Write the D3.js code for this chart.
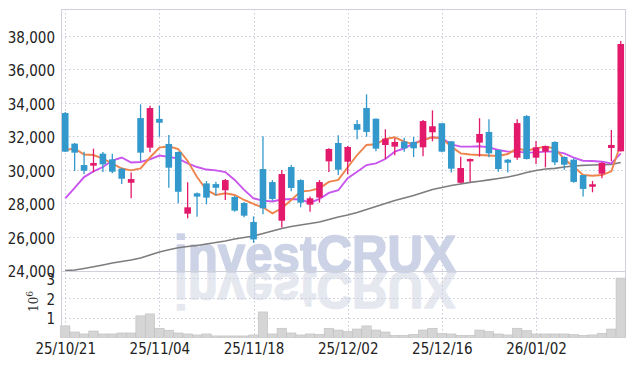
<!DOCTYPE html>
<html><head><meta charset="utf-8">
<script src="https://cdn.jsdelivr.net/npm/d3@7"></script>
<style>body{margin:0;background:#fff}svg{display:block}</style>
</head><body><svg id="c" width="634" height="366"></svg>
<script>
// ---- data ----
const dates = [
"25/10/21","25/10/22","25/10/23","25/10/24","25/10/27","25/10/28","25/10/29","25/10/30","25/10/31","25/11/03",
"25/11/04","25/11/05","25/11/06","25/11/07","25/11/10","25/11/11","25/11/12","25/11/13","25/11/14","25/11/17",
"25/11/18","25/11/19","25/11/20","25/11/21","25/11/24","25/11/25","25/11/26","25/11/27","25/11/28","25/12/01",
"25/12/02","25/12/03","25/12/04","25/12/05","25/12/08","25/12/09","25/12/10","25/12/11","25/12/12","25/12/15",
"25/12/16","25/12/17","25/12/18","25/12/19","25/12/22","25/12/23","25/12/24","25/12/26","25/12/29","25/12/30",
"26/01/02","26/01/05","26/01/06","26/01/07","26/01/08","26/01/09","26/01/12","26/01/13","26/01/14","26/01/15"];
const tickLabels = ["25/10/21","25/11/04","25/11/18","25/12/02","25/12/16","26/01/02"];
const open = [
33390,31560,30280,30240,30960,30620,30060,29220,33090,31320,
33040,31540,31060,27370,28590,29180,29140,28770,28370,28010,
26870,30040,29260,26950,30160,29380,27910,28330,30500,31600,
30480,32730,33690,33050,31480,31380,31680,31660,31340,32240,
32780,31700,29220,30500,31620,32260,31180,30600,30720,33210,
30720,31080,31660,30760,30600,29680,28980,29760,31300,31100];
const high = [
33450,31600,31080,31260,31060,30960,30120,29840,33910,33830,
33830,32080,31090,29250,28640,29320,29280,29440,28430,28070,
27210,32000,29380,29980,30280,29430,28390,29380,31280,32060,
31420,32970,34510,33060,32420,31880,31910,31960,32970,33550,
32800,31720,30780,30670,33080,33020,31200,30640,33020,33270,
31720,31440,31700,30800,30670,29680,29330,30460,32380,37700];
const low = [
31060,29920,29740,29860,29860,29790,29140,28290,30520,31040,
31970,28920,27990,27090,27190,27930,28450,28190,27490,27150,
25630,27330,28140,26550,28710,27750,27490,28030,29860,29680,
29730,31820,31970,31100,30640,30860,31080,30760,30800,31700,
31040,29840,29190,29280,30780,30740,29880,29840,30600,30610,
30340,30140,30280,30000,29220,28390,28650,29490,30500,31090];
const close = [
31080,31020,29940,30400,30320,29880,29460,29440,31020,33690,
32810,30120,28680,27750,28390,28330,28920,29380,27550,27250,
25830,27690,28250,29740,28910,28030,28290,29260,31240,30000,
31360,32390,32260,31260,31860,31660,31280,31280,32910,32600,
31080,30060,30100,30640,32140,30980,30040,30420,32790,30640,
31340,31420,30440,30300,29270,28850,29130,30400,31480,37520];
const volume = [
590000,280000,180000,330000,180000,180000,230000,230000,1100000,1200000,
470000,370000,230000,180000,130000,180000,80000,80000,80000,80000,
130000,1300000,180000,470000,230000,130000,180000,160000,470000,380000,
300000,430000,590000,380000,280000,110000,110000,160000,380000,470000,
210000,180000,110000,110000,380000,300000,180000,130000,470000,350000,
180000,180000,180000,180000,150000,110000,130000,210000,430000,3020000];
const ma5 = [
31180,31270,30910,30880,30660,30370,30070,29960,30080,30730,
31320,31400,31240,30520,29560,28790,28490,28590,28490,28190,
27950,27750,27390,27690,28190,28690,28750,28890,29270,29390,
30150,30880,31480,31520,31840,31940,31680,31520,31780,31940,
31880,31380,30980,30910,30880,30850,30820,30940,31280,31140,
31280,31380,31270,30640,30180,29680,29640,29680,29900,31540];
const ma10 = [
28290,28910,29560,29900,30160,30550,30730,30430,30460,30620,
30850,30770,30660,30380,30160,30010,29960,29860,29390,28790,
28280,28150,28100,28220,28250,28220,28010,28250,28610,28770,
29490,29880,30280,30380,30640,31080,31280,31580,31780,31940,
31880,31520,31380,31380,31400,31340,31180,31080,31080,31020,
31040,31080,31080,30980,30720,30540,30520,30480,30380,30980];
const maLong = [
23960,24000,24090,24190,24300,24420,24510,24600,24720,24900,
25080,25210,25330,25410,25470,25560,25650,25740,25850,25940,
26030,26180,26330,26480,26600,26690,26780,26870,27020,27170,
27290,27440,27620,27800,27980,28160,28310,28460,28640,28820,
28940,29060,29150,29240,29310,29390,29470,29560,29680,29830,
29950,30040,30080,30160,30220,30260,30280,30300,30320,30430];
const priceTicks = [24000,26000,28000,30000,32000,34000,36000,38000];
const volTicks = [1000000,2000000,3000000];

// ---- layout ----
const L=61, R=625, PT=9, PB=271, VT=272, VB=337.5;
const FONT = "'Liberation Sans Narrow','DejaVu Sans Condensed','Arial Narrow',sans-serif";
const UP="#e3196b", DOWN="#3399cc", GRID="#c6cadb";

const svg = d3.select("#c");
const x = d3.scalePoint().domain(dates).range([L,R]).padding(0.45);
const y = d3.scaleLinear().domain([24000,39615]).range([270,9]);
const yv = d3.scaleLinear().domain([0,3330000]).range([VB,VT]);

svg.append("defs").append("clipPath").attr("id","pc")
  .append("rect").attr("x",L).attr("y",PT).attr("width",R-L).attr("height",PB-PT);

// watermark + reflection
const wm = svg.append("g").attr("font-family","'Liberation Sans',Arial,sans-serif")
  .attr("font-weight","bold").attr("font-size",52).attr("stroke-linejoin","round");
wm.append("text").attr("transform","translate(0,544) scale(1,-1)")
  .attr("x",174).attr("y",272).attr("textLength",282).attr("lengthAdjust","spacingAndGlyphs")
  .attr("fill","#e6e8f0").attr("stroke","#e6e8f0").attr("stroke-width",1.6).text("investCRUX");
wm.append("text").attr("x",174).attr("y",272).attr("textLength",282).attr("lengthAdjust","spacingAndGlyphs")
  .attr("fill","#cdd3e6").attr("stroke","#cdd3e6").attr("stroke-width",1.6).text("investCRUX");

// grid
const g = svg.append("g").attr("stroke",GRID).attr("stroke-dasharray","1.5,2.5").attr("stroke-width",1);
g.selectAll(".hg").data(priceTicks.slice(1)).join("line")
  .attr("x1",L).attr("x2",R).attr("y1",d=>Math.round(y(d))+0.5).attr("y2",d=>Math.round(y(d))+0.5);
g.selectAll(".vg").data(volTicks).join("line").attr("class","vg")
  .attr("x1",L).attr("x2",R).attr("y1",d=>Math.round(yv(d))+0.5).attr("y2",d=>Math.round(yv(d))+0.5);
g.selectAll(".xg").data(tickLabels).join("line").attr("class","xg")
  .attr("x1",d=>Math.round(x(d))+0.5).attr("x2",d=>Math.round(x(d))+0.5).attr("y1",PT).attr("y2",VB);

// borders
const b = svg.append("g").attr("stroke","#cfd1da").attr("stroke-width",1).attr("fill","none");
b.append("path").attr("d",`M${L+0.5},${PT} V${VB} M${L},${PT+0.5} H${R} M${R+0.5},${PT} V${VB} M${L},${PB+0.5} H${R}`);

// volume bars
const step = x.step();
svg.append("g").selectAll("rect").data(dates).join("rect")
  .attr("x",d=>x(d)-step/2).attr("width",step)
  .attr("y",(d,i)=>yv(volume[i])).attr("height",(d,i)=>VB-yv(volume[i]))
  .attr("fill","#d5d5d5").attr("stroke","#bfbfbf").attr("stroke-width",0.6);

// price panel
const pp = svg.append("g").attr("clip-path","url(#pc)");
const line = arr => d3.line().x((d,i)=>x(dates[i])).y(d=>y(d))(arr);
pp.append("path").attr("d",line(maLong)).attr("fill","none").attr("stroke","#7d7d7d").attr("stroke-width",1.6);
pp.append("path").attr("d",line(ma10)).attr("fill","none").attr("stroke","#c955ee").attr("stroke-width",1.9);
pp.append("path").attr("d",line(ma5)).attr("fill","none").attr("stroke","#ee844c").attr("stroke-width",1.9);

const cg = pp.append("g");
dates.forEach((d,i)=>{
  const col = close[i] >= open[i] ? UP : DOWN;
  const cx = x(d);
  cg.append("line").attr("x1",cx).attr("x2",cx).attr("y1",y(high[i])).attr("y2",y(low[i]))
    .attr("stroke",col).attr("stroke-width",1.3);
  const top = y(Math.max(open[i],close[i])), bot = y(Math.min(open[i],close[i]));
  cg.append("rect").attr("x",cx-3.3).attr("width",6.6).attr("y",top).attr("height",Math.max(1.5,bot-top))
    .attr("fill",col);
});

// axes
const ay = svg.append("g").attr("transform",`translate(${L},0)`)
  .call(d3.axisLeft(y).tickValues(priceTicks).tickFormat(d3.format(",")).tickSize(0).tickPadding(6));
const av = svg.append("g").attr("transform",`translate(${L},0)`)
  .call(d3.axisLeft(yv).tickValues(volTicks).tickFormat(d=>d/1e6).tickSize(0).tickPadding(6));
const ax = svg.append("g").attr("transform",`translate(0,${VB})`)
  .call(d3.axisBottom(x).tickValues(tickLabels).tickSize(0).tickPadding(6));
[ay,av,ax].forEach(a=>{
  a.select(".domain").remove();
  a.selectAll("text").attr("font-family",FONT).attr("font-size",15).attr("fill","#222");
});
ay.selectAll("text").attr("dy","0.43em");
av.selectAll("text").attr("dy","0.4em");
ax.selectAll("text").attr("dy","0.71em");

// unit label 10^6
const ut = svg.append("text").attr("transform","translate(37.5,312) rotate(-90)")
  .attr("font-family","'DejaVu Serif','Liberation Serif',serif").attr("font-size",12).attr("fill","#333");
ut.append("tspan").text("10");
ut.append("tspan").attr("dy",-5).attr("font-size",9).text("6");
</script></body></html>
